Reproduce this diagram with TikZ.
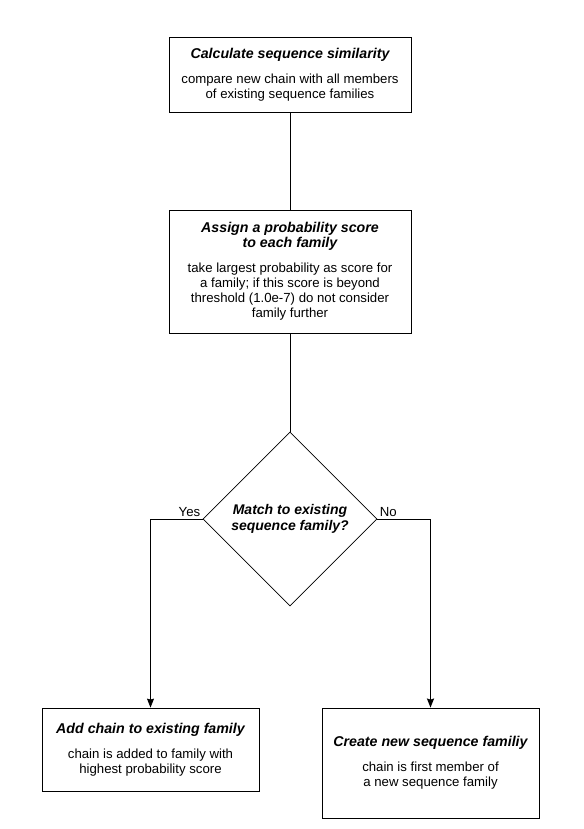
\documentclass[tikz,border=0pt]{standalone}
\usepackage{fontspec}
\setmainfont{Liberation Sans}
\usetikzlibrary{shapes.geometric, arrows.meta}
\tikzset{
  >={Stealth[length=9pt, width=7pt, inset=1pt]},
  x=1pt, y=-1pt,
  every path/.style={line width=0.8pt},
  stepbox/.style={draw, align=center, inner sep=0pt,
    font=\fontsize{13.2}{15}\selectfont},
  choice/.style={draw, diamond, aspect=1, minimum width=174pt,
    minimum height=174pt, inner sep=0pt, align=center,
    font=\fontsize{14}{16}\selectfont\bfseries\itshape},
  lbl/.style={font=\fontsize{13.2}{15}\selectfont, inner sep=2pt},
}
\newcommand{\steptitle}[1]{{\fontsize{14.2}{17}\selectfont\bfseries\itshape #1}}

\begin{document}
\begin{tikzpicture}
  \useasboundingbox (0,0) rectangle (583,829);

  \node[stepbox, minimum width=242pt, minimum height=75pt] (calc) at (290,75)
    {\steptitle{Calculate sequence similarity}\\[10pt]
     compare new chain with all members\\of existing sequence families};
  \node[stepbox, minimum width=242pt, minimum height=123pt] (assign) at (290,271.5)
    {\steptitle{Assign a probability score}\\\steptitle{to each family}\\[10pt]
     take largest probability as score for\\a family; if this score is beyond\\
     threshold (1.0e-7) do not consider\\family further};
  \node[choice] (match) at (290,519) {Match to existing\\sequence family?};
  \node[stepbox, minimum width=217pt, minimum height=83pt] (add) at (150.5,749.5)
    {\steptitle{Add chain to existing family}\\[10pt]
     chain is added to family with\\highest probability score};
  \node[stepbox, minimum width=217pt, minimum height=110pt] (new) at (430.5,763)
    {\steptitle{Create new sequence familiy}\\[10pt]
     chain is first member of\\a new sequence family};
  \coordinate (noturn) at (new.north |- match.east);

  \draw (calc) -- (assign);
  \draw (assign) -- (match);
  \draw[->] (match.west) -| node[lbl, pos=0, above left] {Yes} (add.north);
  \draw (match.east) -- node[lbl, pos=0, above right] {No} (noturn);
  \draw[->, line width=1.5pt] (noturn) -- (new.north);
\end{tikzpicture}
\end{document}
